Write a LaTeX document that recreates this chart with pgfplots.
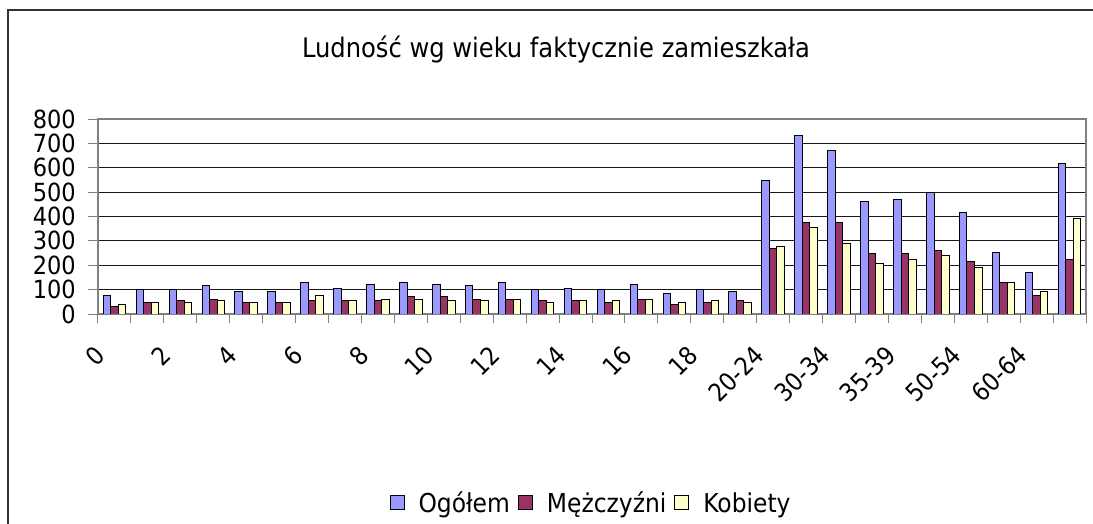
\documentclass[border=0pt]{standalone}
\usepackage{fontspec}
\setmainfont{DejaVu Sans Condensed}
\usepackage{pgfplots}
\usepackage{pgfplotstable}
\pgfplotsset{compat=1.18}
\definecolor{cblue}{HTML}{9999FF}
\definecolor{cred}{HTML}{993366}
\definecolor{cyel}{HTML}{FFFFCC}
\definecolor{cgrid}{HTML}{808080}
\pgfplotstableread{
x o m k
0 76 31 38
1 100 46 46
2 100 55 46
3 116 61 55
4 91 46 46
5 91 46 46
6 131 55 76
7 106 55 55
8 123 55 61
9 130 70 61
10 123 70 55
11 116 61 55
12 130 61 61
13 100 55 46
14 106 55 55
15 100 46 55
16 123 61 61
17 85 38 46
18 100 46 55
19 91 55 46
20 547 269 277
21 732 375 355
22 670 375 291
23 461 247 207
24 470 247 222
25 500 261 239
26 415 214 191
27 254 130 130
28 169 76 91
29 616 222 393
}\data
\begin{document}
\begin{tikzpicture}
\path[use as bounding box] (0,0) rectangle (1093bp,524bp);
\draw[line width=2bp, color=black!80] (7.5bp,0) -- (7.5bp,514bp) -- (1093bp,514bp);
\node[font=\fontsize{26.9bp}{32bp}\selectfont, inner sep=0pt] at (556bp,475bp) {Ludność wg wieku faktycznie zamieszkała};
\begin{axis}[
  at={(98bp,210bp)}, anchor=south west,
  width=988bp, height=195bp, scale only axis,
  xmin=-0.5, xmax=29.5, ymin=0, ymax=800,
  ybar=0pt, bar width=0.228,
  ytick={0,100,...,800},
  xtick={0,2,...,28},
  xticklabels={0,2,4,6,8,10,12,14,16,18,20-24,30-34,35-39,50-54,60-64},
  minor xtick={-0.5,0.5,...,29.5},
  xtick pos=bottom, ytick pos=left,
  ymajorgrids,
  major grid style={black!90, line width=1bp},
  axis line style={cgrid, line width=1.5bp},
  tick align=outside,
  major tick length=10bp, minor tick length=9bp,
  major x tick style={draw=none},
  minor x tick style={cgrid, line width=1bp},
  major y tick style={cgrid, line width=1bp},
  /pgf/number format/assume math mode=true,
  ticklabel style={font=\fontsize{25bp}{30bp}\selectfont},
  yticklabel style={anchor=east, inner sep=0pt, xshift=-12bp},
  xticklabel style={xshift=-14bp, yshift=-27bp, rotate=45, anchor=east, inner sep=0pt},
  legend style={at={(0.498,-0.969)}, anchor=center, draw=none, fill=none,
    font=\fontsize{26bp}{30bp}\selectfont, legend columns=-1,
    nodes={inner sep=0pt},
    /tikz/every even column/.append style={column sep=8bp},
    /tikz/every odd column/.append style={column sep=14bp}},
  legend image code/.code={\draw[#1, line width=1bp, draw=black] (0bp,-7bp) rectangle (14bp,7bp);},
  every axis plot/.append style={draw=black, line width=1bp},
]
\addplot[fill=cblue] table[x=x,y=o] {\data};
\addplot[fill=cred] table[x=x,y=m] {\data};
\addplot[fill=cyel] table[x=x,y=k] {\data};
\legend{Ogółem,Mężczyźni,Kobiety}
\end{axis}
\end{tikzpicture}
\end{document}
